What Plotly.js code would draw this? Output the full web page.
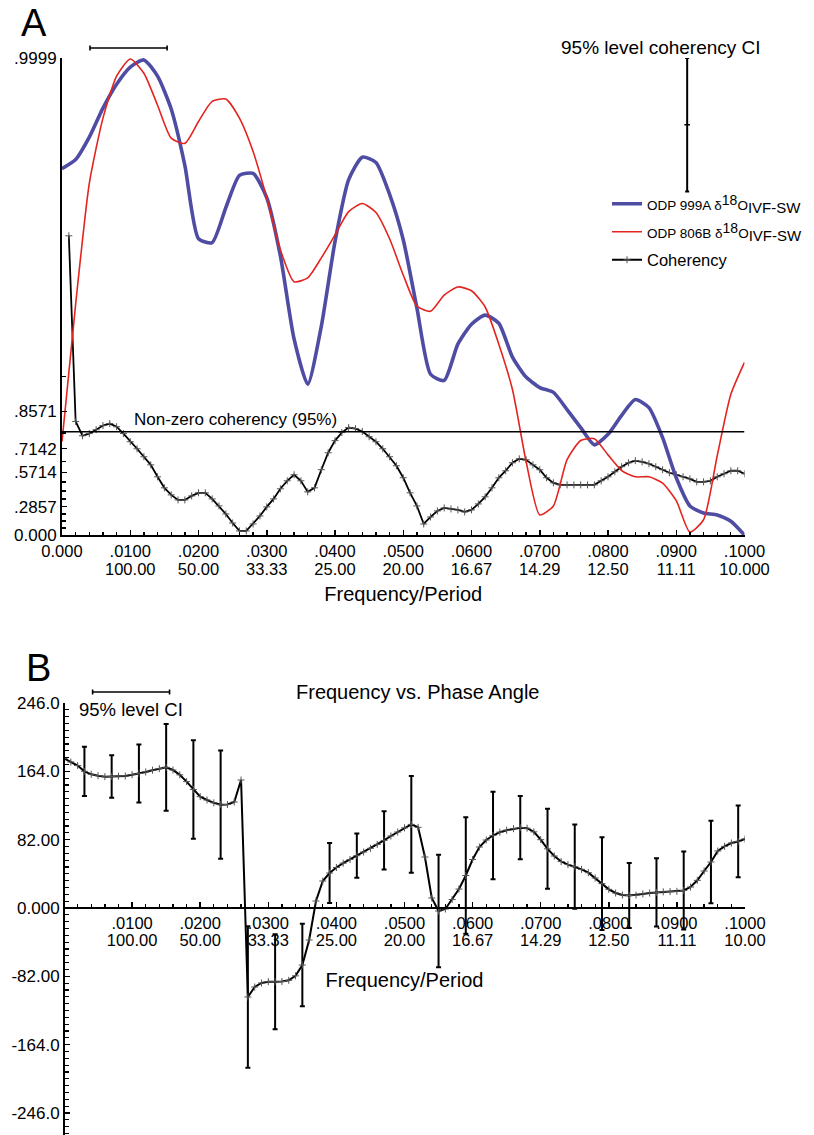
<!DOCTYPE html>
<html><head><meta charset="utf-8">
<script src="https://cdn.plot.ly/plotly-3.0.1.min.js"></script>
<style>html,body{margin:0;padding:0;background:#fff}#chart{width:814px;height:1135px}</style>
</head><body><div id="chart"></div>
<script>
// ---------- DATA ----------
// Panel A: coherency, frequency step 0.001 starting at 0.001
const cohStep = 0.001;
const coherency = [0.996,0.827,0.774,0.783,0.798,0.813,0.820,0.809,0.783,0.748,
 0.714,0.671,0.622,0.540,0.454,0.394,0.349,0.349,0.385,0.412,
 0.412,0.358,0.293,0.215,0.124,0.042,0.042,0.114,0.195,0.284,
 0.358,0.446,0.510,0.555,0.510,0.420,0.454,0.590,0.693,0.753,
 0.787,0.806,0.802,0.791,0.770,0.748,0.714,0.671,0.616,0.533,
 0.412,0.293,0.114,0.185,0.245,0.274,0.264,0.255,0.235,0.255,
 0.312,0.377,0.454,0.533,0.583,0.635,0.659,0.653,0.622,0.590,
 0.533,0.494,0.478,0.478,0.478,0.478,0.478,0.478,0.510,0.540,
 0.576,0.610,0.635,0.648,0.641,0.629,0.610,0.590,0.569,0.555,
 0.540,0.525,0.502,0.502,0.510,0.540,0.562,0.583,0.583,0.562];
// Panel A: normalised power spectra, frequency step 0.002 starting at 0
const specStep = 0.002;
const spec999A = [0.768,0.787,0.834,0.895,0.945,0.981,0.996,0.962,0.893,0.775,
 0.621,0.613,0.686,0.754,0.758,0.707,0.585,0.411,0.316,0.438,
 0.615,0.745,0.792,0.781,0.714,0.619,0.476,0.337,0.324,0.400,
 0.442,0.461,0.444,0.373,0.331,0.309,0.299,0.263,0.225,0.189,
 0.211,0.251,0.284,0.267,0.204,0.120,0.061,0.046,0.042,0.029,
 0.000];
const spec806B = [0.196,0.484,0.737,0.874,0.962,0.998,0.968,0.901,0.832,0.821,
 0.867,0.909,0.914,0.874,0.804,0.707,0.598,0.531,0.539,0.581,
 0.629,0.678,0.695,0.676,0.621,0.545,0.480,0.469,0.503,0.520,
 0.512,0.478,0.400,0.305,0.154,0.042,0.061,0.158,0.198,0.202,
 0.168,0.135,0.122,0.122,0.109,0.072,0.006,0.032,0.166,0.295,
 0.362];
const nonZeroCoh = 0.79;
const cohCI = [0.9984, 0.9996, 0.9999];   // low, mid, high
const cohCIFreq = 0.0916;
const bandwidth = 0.0113;
const bwStartA = 0.0041, bwStartB = 0.0042;
const cohTickVals = [0.9999,0.8571,0.7142,0.5714,0.2857,0];
const cohTickText = ['.9999','.8571','.7142','.5714','.2857','0.000'];
const freqTicksA = [0,0.01,0.02,0.03,0.04,0.05,0.06,0.07,0.08,0.09,0.1];
const freqLabelsA = ['0.000','.0100','.0200','.0300','.0400','.0500','.0600','.0700','.0800','.0900','.1000'];
const periodLabelsA = ['','100.00','50.00','33.33','25.00','20.00','16.67','14.29','12.50','11.11','10.000'];
const freqTicksB = [0.01,0.02,0.03,0.04,0.05,0.06,0.07,0.08,0.09,0.1];
const freqLabelsB = ['.0100','.0200','.0300','.0400','.0500','.0600','.0700','.0800','.0900','.1000'];
const periodLabelsB = ['100.00','50.00','33.33','25.00','20.00','16.67','14.29','12.50','11.11','10.00'];
// Panel B: phase angle (degrees), frequency step 0.001 starting at 0
const phaseStep = 0.001;
const phase = [179.4,175.2,171.0,164.0,160.4,158.8,157.6,157.8,158.2,158.4,
 160.0,161.4,163.3,165.4,167.2,168.8,165.6,159.8,151.7,142.2,
 133.6,129.6,126.2,124.0,124.2,127.2,153.6,-106.8,-94.8,-90.0,
 -88.4,-88.4,-88.2,-86.8,-81.4,-68.4,-38.4,8.4,32.4,42.0,
 48.6,53.8,58.2,62.8,67.2,71.6,76.3,81.1,86.4,91.2,
 96.2,100.3,96.8,61.2,12.0,-3.6,-1.2,10.2,22.8,39.0,
 58.2,73.2,81.6,87.0,91.0,93.4,95.2,96.4,95.8,91.4,
 82.0,71.0,62.4,55.8,52.1,49.6,46.4,42.4,36.0,29.2,
 22.4,18.0,15.6,15.0,15.5,16.9,18.0,18.7,19.4,19.7,
 20.0,21.0,25.2,33.2,44.4,55.2,68.4,74.0,78.0,79.9,
 82.8];
const ciFreq = [0.003,0.007,0.011,0.015,0.019,0.023,0.027,0.031,0.035,0.039,0.043,0.047,0.051,0.055,0.059,0.063,0.067,0.071,0.075,0.079,0.083,0.087,0.091,0.095,0.099];
const ciHalf = [29.6,25.6,34.8,52,59,65,85,57,49.6,36,26.6,35,58,67.4,70,52.6,38,48,50.6,55.6,39,41,46.8,49.4,43];
const phaseTickVals = [246,164,82,0,-82,-164,-246];
const phaseTickText = ['246.0','164.0','82.00','0.000','-82.00','-164.0','-246.0'];

// ---------- BUILD ----------
const W = 814, H = 1135;
const px = x => x / W, py = y => 1 - y / H;
const at = Math.atanh;
const cohX = coherency.map((_, i) => +((i + 1) * cohStep).toFixed(4));
const specX = spec999A.map((_, i) => +(i * specStep).toFixed(4));
const phaseX = phase.map((_, i) => +(i * phaseStep).toFixed(4));
const ciY = ciFreq.map(f => phase[Math.round(f / phaseStep)]);
const minorCoh = [1,2,3,5,6,7,9,11,13].map(k => at(k / 14));
const plusMarker = {symbol: 'cross-thin', size: 5, line: {width: 1, color: '#555'}, color: '#555'};
const FONT = 'Liberation Sans, Arial, Helvetica, sans-serif';
const isoLabel = core => '<span style="font-size:13.5px">' + core + ' δ</span>' +
  '<span style="font-size:14px;baseline-shift:5px">18</span>' +
  '<span style="font-size:13.5px">O</span>' +
  '<span style="font-size:15px;baseline-shift:-3px">IVF-SW</span>';

const traces = [
  {x: specX, y: spec999A, xaxis: 'x', yaxis: 'y2', mode: 'lines', type: 'scatter',
   name: isoLabel('ODP 999A'),
   line: {color: '#4f4ca3', width: 3.6, shape: 'spline', smoothing: 0.6}, legend: 'legend'},
  {x: specX, y: spec806B, xaxis: 'x', yaxis: 'y2', mode: 'lines', type: 'scatter',
   name: isoLabel('ODP 806B'),
   line: {color: '#e3241f', width: 1.6, shape: 'spline', smoothing: 0.6}, legend: 'legend2'},
  {x: cohX, y: coherency.map(at), xaxis: 'x', yaxis: 'y', mode: 'lines+markers', type: 'scatter',
   name: 'Coherency', line: {color: '#000', width: 1.8}, marker: plusMarker, legend: 'legend3'},
  {x: [cohCIFreq], y: [at(cohCI[1])], xaxis: 'x', yaxis: 'y', mode: 'markers', type: 'scatter', showlegend: false,
   marker: {symbol: 'line-ew', size: 4, line: {width: 1.5, color: '#000'}},
   error_y: {type: 'data', symmetric: false, array: [at(cohCI[2]) - at(cohCI[1])], arrayminus: [at(cohCI[1]) - at(cohCI[0])],
     color: '#000', thickness: 2, width: 2}},
  {x: ciFreq, y: ciY, xaxis: 'x2', yaxis: 'y3', mode: 'markers', type: 'scatter', showlegend: false,
   marker: {size: 1, color: 'rgba(0,0,0,0)'},
   error_y: {type: 'data', array: ciHalf, color: '#000', thickness: 2, width: 2.5}},
  {x: phaseX, y: phase, xaxis: 'x2', yaxis: 'y3', mode: 'lines+markers', type: 'scatter', showlegend: false,
   name: 'Phase', line: {color: '#000', width: 2}, marker: plusMarker},
  // carriers for the period (second-row) tick label axes
  {x: [], y: [], xaxis: 'x3', yaxis: 'y', type: 'scatter', mode: 'lines', showlegend: false, hoverinfo: 'skip'},
  {x: [], y: [], xaxis: 'x4', yaxis: 'y3', type: 'scatter', mode: 'lines', showlegend: false, hoverinfo: 'skip'}
];

const axBase = {showline: true, linecolor: '#000', linewidth: 2, showgrid: false, zeroline: false,
  ticks: 'inside', ticklen: 5, tickwidth: 1.5, tickcolor: '#000', tickfont: {size: 17, color: '#000'}};
const xTickFont = {size: 16.5, color: '#000'};
const periodAxBase = {showline: false, showgrid: false, zeroline: false, ticks: '', range: [0, 0.1],
  tickmode: 'array', tickfont: xTickFont, ticklabelstandoff: 20};

const capLen = 2.5;
const shapes = [
  {type: 'line', xref: 'x', yref: 'y', x0: 0, x1: 0.1, y0: at(nonZeroCoh), y1: at(nonZeroCoh), line: {color: '#000', width: 1.6}},
  {type: 'line', xref: 'x', yref: 'paper', x0: bwStartA, x1: bwStartA + bandwidth, y0: py(48), y1: py(48), line: {color: '#000', width: 1.6}},
  {type: 'line', xref: 'x', yref: 'paper', x0: bwStartA, x1: bwStartA, y0: py(48 - capLen), y1: py(48 + capLen), line: {color: '#000', width: 1.6}},
  {type: 'line', xref: 'x', yref: 'paper', x0: bwStartA + bandwidth, x1: bwStartA + bandwidth, y0: py(48 - capLen), y1: py(48 + capLen), line: {color: '#000', width: 1.6}},
  {type: 'line', xref: 'x2', yref: 'paper', x0: bwStartB, x1: bwStartB + bandwidth, y0: py(692), y1: py(692), line: {color: '#000', width: 1.6}},
  {type: 'line', xref: 'x2', yref: 'paper', x0: bwStartB, x1: bwStartB, y0: py(692 - capLen), y1: py(692 + capLen), line: {color: '#000', width: 1.6}},
  {type: 'line', xref: 'x2', yref: 'paper', x0: bwStartB + bandwidth, x1: bwStartB + bandwidth, y0: py(692 - capLen), y1: py(692 + capLen), line: {color: '#000', width: 1.6}}
];

const ann = (text, x, y, size, xanchor) => ({text, xref: 'paper', yref: 'paper', x: px(x), y: py(y),
  xanchor: xanchor || 'center', yanchor: 'middle', showarrow: false, font: {size, color: '#000', family: FONT}});

const legendBase = {xanchor: 'left', yanchor: 'middle', bgcolor: 'rgba(0,0,0,0)', borderwidth: 0, font: {size: 16.5, color: '#000'}};

const layout = {
  width: W, height: H, margin: {l: 0, r: 0, t: 0, b: 0},
  paper_bgcolor: '#fff', plot_bgcolor: 'rgba(0,0,0,0)',
  font: {family: FONT, color: '#000'},
  showlegend: true,
  legend: Object.assign({}, legendBase, {x: px(607), y: py(204)}),
  legend2: Object.assign({}, legendBase, {x: px(607), y: py(232)}),
  legend3: Object.assign({}, legendBase, {x: px(607), y: py(260)}),
  xaxis: Object.assign({}, axBase, {domain: [px(62), px(744.5)], range: [0, 0.1], anchor: 'y',
    tickmode: 'array', tickvals: freqTicksA, ticktext: freqLabelsA, tickfont: xTickFont,
    minor: {dtick: specStep, tick0: 0, ticks: 'inside', ticklen: 3.5, tickwidth: 1.3, tickcolor: '#000'},
    title: {text: 'Frequency/Period', font: {size: 20}, standoff: 28}}),
  xaxis3: Object.assign({}, periodAxBase, {overlaying: 'x', anchor: 'y', tickvals: freqTicksA, ticktext: periodLabelsA, ticklabelstandoff: 22}),
  yaxis: Object.assign({}, axBase, {domain: [py(535), py(58)], range: [0, at(0.9999)], anchor: 'x',
    tickmode: 'array', tickvals: cohTickVals.map(at), ticktext: cohTickText,
    minor: {tickmode: 'array', tickvals: minorCoh, ticks: 'inside', ticklen: 3.5, tickwidth: 1.3, tickcolor: '#000'}}),
  yaxis2: {overlaying: 'y', range: [0, 1], visible: false, showgrid: false, zeroline: false},
  xaxis2: Object.assign({}, axBase, {domain: [px(64), px(745)], range: [0, 0.1], anchor: 'free', position: py(908),
    tickmode: 'array', tickvals: freqTicksB, ticktext: freqLabelsB, tickfont: xTickFont,
    minor: {dtick: 0.002, tick0: 0, ticks: 'inside', ticklen: 3.5, tickwidth: 1.3, tickcolor: '#000'},
    title: {text: 'Frequency/Period', font: {size: 20}, standoff: 41}}),
  xaxis4: Object.assign({}, periodAxBase, {overlaying: 'x2', anchor: 'free', position: py(908), tickvals: freqTicksB, ticktext: periodLabelsB}),
  yaxis3: Object.assign({}, axBase, {domain: [0, py(703)], range: [-(1135 - 908) * 246 / 205, 246], anchor: 'free', position: px(64),
    tickmode: 'array', tickvals: phaseTickVals, ticktext: phaseTickText,
    minor: {dtick: 8.2, tick0: 0, ticks: 'inside', ticklen: 3.5, tickwidth: 1.3, tickcolor: '#000'}}),
  shapes: shapes,
  annotations: [
    ann('A', 33.5, 22.5, 38),
    ann('95% level coherency CI', 661, 47, 19),
    ann('Non-zero coherency (95%)', 132, 419, 17, 'left'),
    ann('B', 38.5, 667.5, 38),
    ann('Frequency vs. Phase Angle', 417, 692, 20),
    ann('95% level CI', 77, 709, 18.5, 'left')
  ]
};

Plotly.newPlot('chart', traces, layout, {displayModeBar: false, staticPlot: true});
</script></body></html>
